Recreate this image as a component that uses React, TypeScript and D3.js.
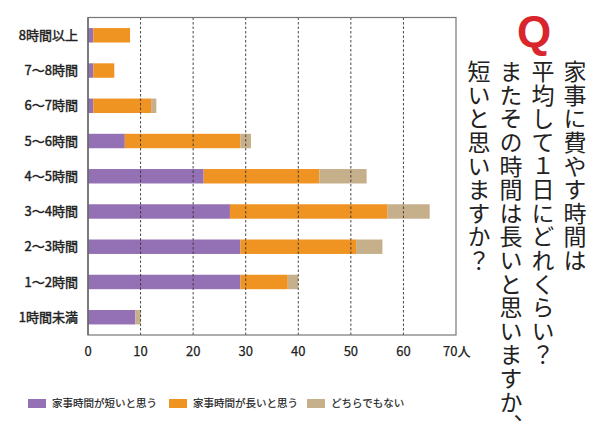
import React from "react";
import * as d3 from "d3";

const categories = ["8時間以上", "7〜8時間", "6〜7時間", "5〜6時間", "4〜5時間", "3〜4時間", "2〜3時間", "1〜2時間", "1時間未満"];
const shortVals = [1, 1, 1, 7, 22, 27, 29, 29, 9];
const longVals = [7, 4, 11, 22, 22, 30, 22, 9, 0];
const neitherVals = [0, 0, 1, 2, 9, 8, 5, 2, 1];
const seriesNames = ["家事時間が短いと思う", "家事時間が長いと思う", "どちらでもない"];
const xTicks = [0, 10, 20, 30, 40, 50, 60, 70];
const questionLines = ["家事に費やす時間は", "平均して１日にどれくらい？", "またその時間は長いと思いますか、", "短いと思いますか？"];

const colors = ["#9471b4", "#ef9322", "#c6b08c"];

export default function App() {
  const W = 600, H = 441;
  const left = 88, right = 456, top = 17.5, bottom = 335;
  const x = d3.scaleLinear().domain([0, 70]).range([left, right]);
  const y = d3.scaleBand<string>().domain(categories).range([top, bottom]).paddingInner(0.59).paddingOuter(0.3);
  const series = [shortVals, longVals, neitherVals];
  const font = "'Noto Sans CJK JP', 'Noto Sans', sans-serif";

  return (
    <svg width={W} height={H} style={{ position: "absolute", left: 0, top: 0, background: "#fff" }}>
      {/* bars */}
      {categories.map((c, i) => {
        let acc = 0;
        return series.map((s, k) => {
          const v = s[i];
          const x0 = x(acc);
          acc += v;
          if (v <= 0) return null;
          return <rect key={c + k} x={x0} y={y(c)} width={x(acc) - x0} height={y.bandwidth()} fill={colors[k]} />;
        });
      })}
      {/* grid */}
      {xTicks.filter((t) => t > 0 && t < 70).map((t) => (
        <line key={t} x1={x(t)} x2={x(t)} y1={top} y2={bottom} stroke="#333" strokeWidth={0.9} strokeDasharray="2.5,2" />
      ))}
      {/* frame */}
      <rect x={left} y={top} width={right - left} height={bottom - top} fill="none" stroke="#777" strokeWidth={1.2} />
      <line x1={left} x2={left} y1={top} y2={bottom} stroke="#666" strokeWidth={1.4} />
      {/* x tick labels */}
      {xTicks.map((t) =>
        t === 70 ? (
          <text key={t} x={x(t) - 13} y={356} fontSize={13} fontFamily={font} fill="#222" stroke="#222" strokeWidth={0.25}>{t}人</text>
        ) : (
          <text key={t} x={x(t)} y={356} fontSize={13} fontFamily={font} textAnchor="middle" fill="#222" stroke="#222" strokeWidth={0.25}>{t}</text>
        )
      )}
      {/* category labels */}
      {categories.map((c) => (
        <text key={c} x={78} y={(y(c) as number) + y.bandwidth() / 2} dy="0.35em" textAnchor="end" fontSize={13} fontFamily={font} fill="#222" stroke="#222" strokeWidth={0.45}>{c}</text>
      ))}
      {/* legend */}
      {seriesNames.map((n, k) => {
        const lx = [28, 169, 307][k];
        return (
          <g key={n}>
            <rect x={lx} y={399} width={18} height={9} fill={colors[k]} />
            <text x={lx + 24} y={403.5} dy="0.35em" fontSize={10.5} fontFamily={font} fill="#222" stroke="#222" strokeWidth={0.2}>{n}</text>
          </g>
        );
      })}
      {/* Q */}
      <text x={534} y={47} textAnchor="middle" fontSize={44} fontWeight="bold" fontFamily="'Liberation Sans', Arial, sans-serif" fill="#d9262c">Q</text>
      {/* vertical question text, one glyph per cell */}
      {questionLines.map((l, i) => (
        <g key={i}>
          {Array.from(l).map((ch, j) => (
            <text key={j} x={575 - i * 32} y={60 + j * 23.6} fontSize={23} fontFamily={font} fill="#222" style={{ writingMode: "vertical-rl" }}>{ch}</text>
          ))}
        </g>
      ))}
    </svg>
  );
}
